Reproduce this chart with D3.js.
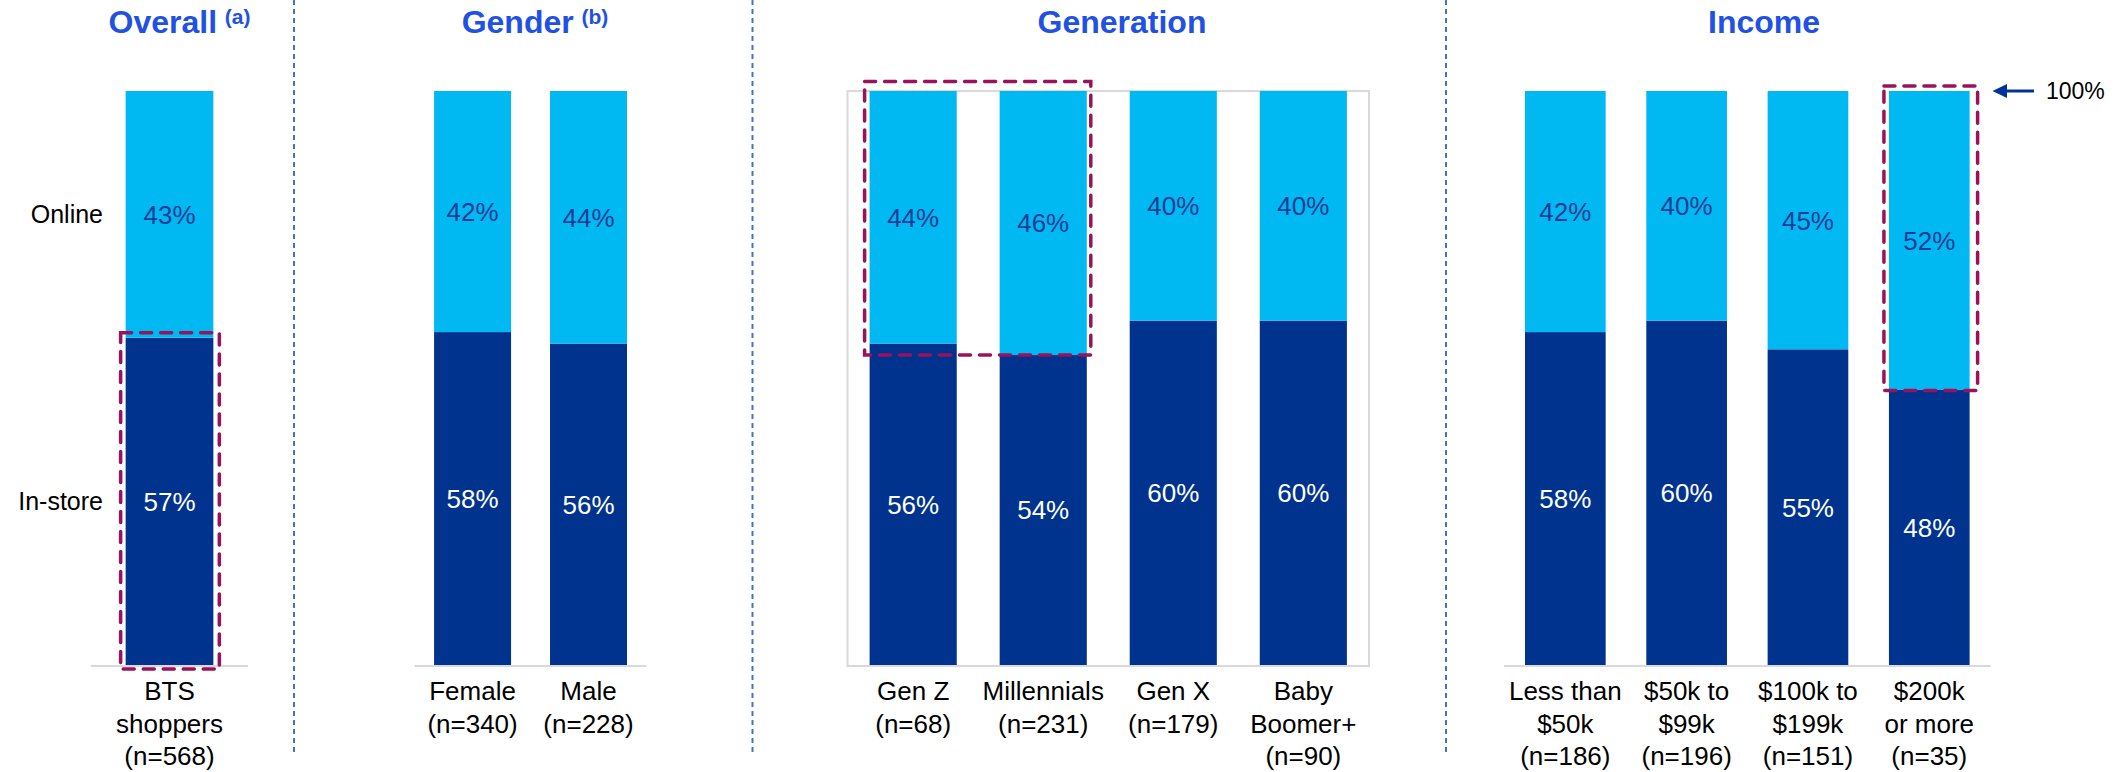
<!DOCTYPE html>
<html>
<head>
<meta charset="utf-8">
<script src="https://cdn.jsdelivr.net/npm/d3@7"></script>
<style>
  html, body { margin: 0; padding: 0; background: #ffffff; }
  svg { display: block; font-family: "Liberation Sans", Arial, Helvetica, sans-serif; }
</style>
</head>
<body>
<svg id="chart" width="2126" height="772"></svg>
<script>
// ---------------- DATA ----------------
const seriesNames = ["In-store", "Online"];

const overallTitle = "Overall";
const overallNote = "(a)";
const overallCats = [["BTS", "shoppers", "(n=568)"]];
const overallInstore = [57];
const overallOnline = [43];

const genderTitle = "Gender";
const genderNote = "(b)";
const genderCats = [["Female", "(n=340)"], ["Male", "(n=228)"]];
const genderInstore = [58, 56];
const genderOnline = [42, 44];

const generationTitle = "Generation";
const generationCats = [["Gen Z", "(n=68)"], ["Millennials", "(n=231)"], ["Gen X", "(n=179)"], ["Baby", "Boomer+", "(n=90)"]];
const generationInstore = [56, 54, 60, 60];
const generationOnline = [44, 46, 40, 40];

const incomeTitle = "Income";
const incomeCats = [["Less than", "$50k", "(n=186)"], ["$50k to", "$99k", "(n=196)"], ["$100k to", "$199k", "(n=151)"], ["$200k", "or more", "(n=35)"]];
const incomeInstore = [58, 60, 55, 48];
const incomeOnline = [42, 40, 45, 52];

const totalLabel = "100%";

// ---------------- STYLE / LAYOUT ----------------
const W = 2126, H = 772;
const colInstore = "#00338E";
const colOnline = "#00B9F2";
const colOnlineText = "#1B3C96";
const colTitle = "#2151E3";
const colHighlight = "#99125B";
const colDivider = "#4472C4";
const colAxis = "#D9D9D9";
const colArrow = "#003399";

const svg = d3.select("#chart");

const y = d3.scaleLinear().domain([0, 100]).range([665, 91]);

const panels = [
  { key: "overall", title: overallTitle, note: overallNote, cats: overallCats, instore: overallInstore, online: overallOnline,
    range: [91, 248], pi: 0, po: 0.395, titleX: 179.5 },
  { key: "gender", title: genderTitle, note: genderNote, cats: genderCats, instore: genderInstore, online: genderOnline,
    range: [414.6, 646.5], pi: 0.336, po: 0.168, titleX: 535 },
  { key: "generation", title: generationTitle, note: null, cats: generationCats, instore: generationInstore, online: generationOnline,
    range: [847.5, 1369], pi: 0.33, po: 0.17, titleX: 1122, boxed: true },
  { key: "income", title: incomeTitle, note: null, cats: incomeCats, instore: incomeInstore, online: incomeOnline,
    range: [1504, 1990.6], pi: 0.335, po: 0.173, titleX: 1764 }
];

// Dividers
const dividerXs = [294, 752.5, 1446];
svg.append("g").selectAll("line").data(dividerXs).join("line")
  .attr("x1", d => d).attr("x2", d => d)
  .attr("y1", 0).attr("y2", 753)
  .attr("stroke", colDivider).attr("stroke-width", 2)
  .attr("stroke-dasharray", "5,4");

panels.forEach(p => {
  const g = svg.append("g").attr("class", p.key);
  const idx = p.cats.map((c, i) => i);
  const x = d3.scaleBand().domain(idx).range(p.range).paddingInner(p.pi).paddingOuter(p.po);
  p.x = x;

  // title
  const t = g.append("text")
    .attr("x", p.titleX).attr("y", 33)
    .attr("text-anchor", "middle")
    .attr("fill", colTitle).attr("font-weight", "bold")
    .attr("font-size", 32);
  t.append("tspan").text(p.title);
  if (p.note) {
    t.append("tspan").text(" ").attr("font-size", 28);
    t.append("tspan").text(p.note).attr("font-size", 21).attr("dy", -9);
  }

  // plot area box (generation) or baseline
  if (p.boxed) {
    g.append("rect")
      .attr("x", p.range[0]).attr("y", y(100))
      .attr("width", p.range[1] - p.range[0]).attr("height", y(0) + 1 - y(100))
      .attr("fill", "none").attr("stroke", colAxis).attr("stroke-width", 2);
  } else {
    g.append("line")
      .attr("x1", p.range[0]).attr("x2", p.range[1])
      .attr("y1", y(0) + 1).attr("y2", y(0) + 1)
      .attr("stroke", colAxis).attr("stroke-width", 2);
  }

  // stacked bars
  const rows = idx.map(i => ({ i, instore: p.instore[i], online: p.online[i] }));
  const stack = d3.stack().keys(["instore", "online"]);
  const layers = stack(rows);
  const colors = { instore: colInstore, online: colOnline };
  const textCols = { instore: "#ffffff", online: colOnlineText };

  layers.forEach(layer => {
    const lg = g.append("g");
    lg.selectAll("rect").data(layer).join("rect")
      .attr("x", d => x(d.data.i))
      .attr("width", x.bandwidth())
      .attr("y", d => y(d[1]))
      .attr("height", d => y(d[0]) - y(d[1]))
      .attr("fill", colors[layer.key]);
    lg.selectAll("text").data(layer).join("text")
      .attr("x", d => x(d.data.i) + x.bandwidth() / 2)
      .attr("y", d => (y(d[0]) + y(d[1])) / 2)
      .attr("dy", "0.36em")
      .attr("text-anchor", "middle")
      .attr("font-size", 26)
      .attr("fill", textCols[layer.key])
      .text(d => d3.format(".0f")(d.data[layer.key]) + "%");
  });

  // category labels
  const cg = g.append("g");
  idx.forEach(i => {
    const tx = cg.append("text")
      .attr("x", x(i) + x.bandwidth() / 2).attr("y", 700)
      .attr("text-anchor", "middle").attr("font-size", 26).attr("fill", "#000");
    p.cats[i].forEach((line, k) => {
      tx.append("tspan").attr("x", x(i) + x.bandwidth() / 2).attr("y", 700 + k * 32.5).text(line);
    });
  });
});

// Series labels on the left (aligned to the overall bar segments)
const ov = panels[0];
svg.append("g").selectAll("text").data([
  { name: seriesNames[1], v0: ov.instore[0], v1: 100 },
  { name: seriesNames[0], v0: 0, v1: ov.instore[0] }
]).join("text")
  .attr("x", 103)
  .attr("y", d => (y(d.v0) + y(d.v1)) / 2)
  .attr("dy", "0.36em")
  .attr("text-anchor", "end")
  .attr("font-size", 25)
  .attr("fill", "#000")
  .text(d => d.name);

// Highlight dashed boxes
function hbox(x0, y0, x1, y1) {
  svg.append("rect")
    .attr("x", x0).attr("y", y0).attr("width", x1 - x0).attr("height", y1 - y0)
    .attr("fill", "none").attr("stroke", colHighlight).attr("stroke-width", 3.5)
    .attr("stroke-dasharray", "11,9").attr("stroke-linecap", "round");
}
{
  const p = panels[0], x = p.x;
  hbox(x(0) - 5, y(p.instore[0]) - 5, x(0) + x.bandwidth() + 6, y(0) + 4);
}
{
  const p = panels[2], x = p.x;
  hbox(x(0) - 5, y(100) - 9.5, x(1) + x.bandwidth() + 4, y(p.instore[1]));
}
{
  const p = panels[3], x = p.x;
  hbox(x(3) - 5, y(100) - 5, x(3) + x.bandwidth() + 8, y(p.instore[3]) + 1);
}

// 100% arrow
const ay = y(100);
svg.append("line")
  .attr("x1", 2034).attr("x2", 2004).attr("y1", ay).attr("y2", ay)
  .attr("stroke", colArrow).attr("stroke-width", 3);
svg.append("path")
  .attr("d", `M1992.5,${ay} L2007,${ay - 7} L2007,${ay + 7} Z`)
  .attr("fill", colArrow);
svg.append("text")
  .attr("x", 2046).attr("y", ay).attr("dy", "0.36em")
  .attr("font-size", 23).attr("fill", "#000")
  .text(totalLabel);
</script>
</body>
</html>
